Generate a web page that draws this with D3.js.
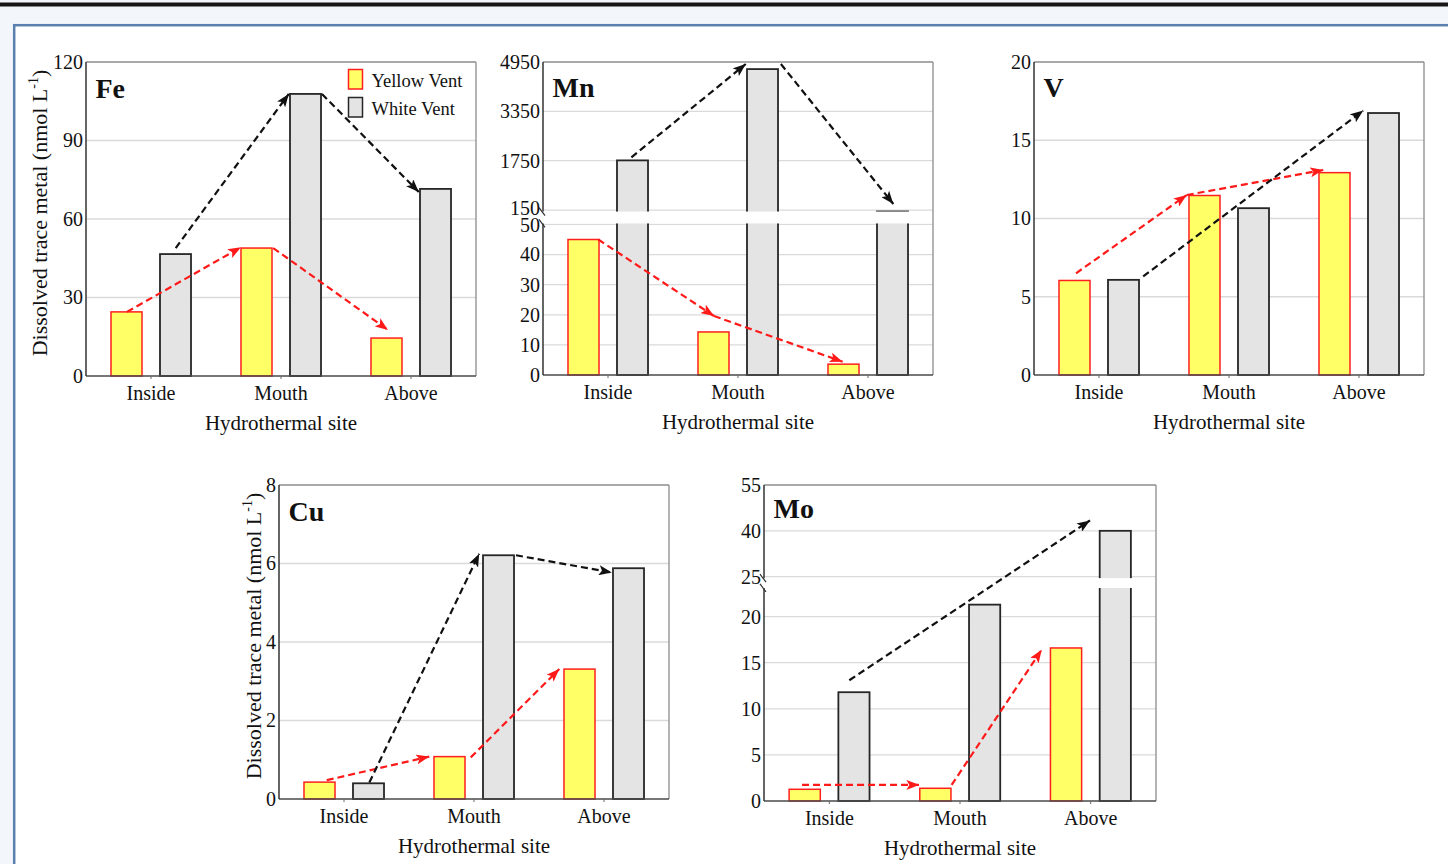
<!DOCTYPE html>
<html>
<head>
<meta charset="utf-8">
<script src="https://cdn.jsdelivr.net/npm/d3@7"></script>
<style>
  html, body { margin: 0; padding: 0; background: #f3f7fb; }
  svg { display: block; }
  text { font-family: "Liberation Serif", "Times New Roman", serif; fill: #111; }
</style>
</head>
<body>
<svg id="chart" width="1448" height="864"></svg>
<script>
// ---------------- DATA ----------------
const categories = ["Inside", "Mouth", "Above"];
const seriesNames = ["Yellow Vent", "White Vent"];

const feYellow = [24.5, 48.9, 14.5];
const feWhite  = [46.6, 107.8, 71.5];
const mnYellow = [45.0, 14.3, 3.6];
const mnWhite  = [1760, 4720, 140];
const vYellow  = [6.04, 11.47, 12.93];
const vWhite   = [6.08, 10.66, 16.74];
const cuYellow = [0.43, 1.08, 3.31];
const cuWhite  = [0.40, 6.21, 5.88];
const moYellow = [1.27, 1.38, 16.6];
const moWhite  = [11.8, 21.3, 40.0];

const feTicks = [0, 30, 60, 90, 120];
const mnTicksLower = [0, 10, 20, 30, 40, 50];
const mnTicksUpper = [150, 1750, 3350, 4950];
const vTicks  = [0, 5, 10, 15, 20];
const cuTicks = [0, 2, 4, 6, 8];
const moTicksLower = [0, 5, 10, 15, 20];
const moTicksUpper = [25, 40, 55];

// trend arrows: [category index, offset within band (fraction of band from center), value]
const feArrowsWhite  = [[[0, 0.19, 48.9], [1, 0.06, 107.8]], [[1, 0.315, 107.8], [2, 0.06, 70.3]]];
const feArrowsYellow = [[[0, -0.185, 24.5], [1, -0.308, 49.2]], [[1, -0.06, 48.9], [2, -0.177, 17.6]]];
const mnArrowsWhite  = [[[0, 0.18, 1859], [1, 0.06, 4885]], [[1, 0.33, 4885], [2, 0.195, 345]]];
const mnArrowsYellow = [[[0, -0.075, 45.0], [1, -0.185, 19.6]], [[1, -0.185, 19.6], [2, -0.195, 4.4]]];
const vArrowsWhite   = [[[0, 0.34, 6.3], [2, 0.033, 16.9]]];
const vArrowsYellow  = [[[0, -0.177, 6.5], [1, -0.325, 11.5]], [[1, -0.325, 11.5], [2, -0.275, 13.1]]];
const cuArrowsWhite  = [[[0, 0.195, 0.42], [1, 0.04, 6.25]], [[1, 0.323, 6.21], [2, 0.06, 5.77]]];
const cuArrowsYellow = [[[0, -0.133, 0.48], [1, -0.344, 1.08]], [[1, -0.025, 1.06], [2, -0.344, 3.31]]];
const moArrowsWhite  = [[[0, 0.153, 13.1], [2, -0.005, 43.4]]];
const moArrowsYellow = [[[0, -0.209, 1.74], [1, -0.311, 1.74]], [[1, -0.064, 1.74], [2, -0.375, 16.4]]];

// ---------------- LAYOUT / STYLE ----------------
const panels = [
  { name: "Fe", yellow: feYellow, white: feWhite, box: [86, 62, 390, 314],
    simple: { domain: [0, 120], ticks: feTicks },
    arrowsW: feArrowsWhite, arrowsY: feArrowsYellow, ylabelX: 47, legend: true, nameDy: 36 },
  { name: "Mn", yellow: mnYellow, white: mnWhite, box: [543, 62, 390, 313],
    broken: { lower: [0, 50], upper: [150, 4950], lowerFrac: 0.481, upperFrac: 0.527,
              lowerTicks: mnTicksLower, upperTicks: mnTicksUpper, upperShift: -2, lowerShift: 1 },
    arrowsW: mnArrowsWhite, arrowsY: mnArrowsYellow, nameDy: 35 },
  { name: "V", yellow: vYellow, white: vWhite, box: [1034, 62, 390, 313],
    simple: { domain: [0, 20], ticks: vTicks },
    arrowsW: vArrowsWhite, arrowsY: vArrowsYellow, nameDy: 35 },
  { name: "Cu", yellow: cuYellow, white: cuWhite, box: [279, 485, 390, 314],
    simple: { domain: [0, 8], ticks: cuTicks },
    arrowsW: cuArrowsWhite, arrowsY: cuArrowsYellow, ylabelX: 260.5, nameDy: 36 },
  { name: "Mo", yellow: moYellow, white: moWhite, box: [764, 485, 392, 316],
    broken: { lower: [0, 23], upper: [25, 55], lowerFrac: 0.671, upperFrac: 0.71,
              lowerTicks: moTicksLower, upperTicks: moTicksUpper, upperShift: 0, lowerShift: 0 },
    arrowsW: moArrowsWhite, arrowsY: moArrowsYellow, nameDy: 32.5 }
];

const YELLOW_FILL = "#ffff66", YELLOW_STROKE = "#ff1f1f";
const WHITE_FILL = "#e4e4e4", WHITE_STROKE = "#262626";
const RED_ARROW = "#ff1a1a", BLACK_ARROW = "#111111";

const svg = d3.select("#chart");

// page chrome
svg.append("rect").attr("x", 0).attr("y", 0).attr("width", 1448).attr("height", 864).attr("fill", "#f3f7fb");
svg.append("rect").attr("x", 0).attr("y", 2.5).attr("width", 1448).attr("height", 4).attr("fill", "#161616");
svg.append("rect").attr("x", 14.2).attr("y", 25.2).attr("width", 1500).attr("height", 900)
  .attr("fill", "#ffffff").attr("stroke", "#5b7fae").attr("stroke-width", 2.5);

// markers
const defs = svg.append("defs");
[["arrRed", RED_ARROW], ["arrBlack", BLACK_ARROW]].forEach(([id, c]) => {
  defs.append("marker").attr("id", id).attr("markerUnits", "userSpaceOnUse")
    .attr("viewBox", "0 0 13 10").attr("refX", 13).attr("refY", 5)
    .attr("markerWidth", 13).attr("markerHeight", 10).attr("orient", "auto")
    .append("path").attr("d", "M0,0 L13,5 L0,10 L3,5 Z").attr("fill", c);
});

panels.forEach(p => {
  const [L, T, W, H] = p.box;
  const B = T + H, R = L + W;
  const g = svg.append("g");

  const x = d3.scaleBand().domain(categories).range([L, R]);
  const xs = d3.scaleBand().domain(seriesNames).range([0, x.bandwidth()])
    .paddingInner(0.367).paddingOuter(0.51);

  // y mapping
  let yMap, tickSets, gap = null;
  if (p.simple) {
    const y = d3.scaleLinear().domain(p.simple.domain).range([B, T]);
    yMap = v => y(v);
    tickSets = [{ scale: y, ticks: p.simple.ticks, shift: 0 }];
  } else {
    const b = p.broken;
    const yl = d3.scaleLinear().domain(b.lower).range([B, B - H * b.lowerFrac]);
    const yu = d3.scaleLinear().domain(b.upper).range([B - H * b.upperFrac, T]);
    const ym = d3.scaleLinear().domain([b.lower[1], b.upper[0]]).range([yl(b.lower[1]), yu(b.upper[0])]);
    yMap = v => v <= b.lower[1] ? yl(v) : (v >= b.upper[0] ? yu(v) : ym(v));
    tickSets = [{ scale: yl, ticks: b.lowerTicks, shift: b.lowerShift, edge: b.lower[1] },
                { scale: yu, ticks: b.upperTicks, shift: b.upperShift, edge: b.upper[0] }];
    gap = [yu(b.upper[0]) + 1.5, yl(b.lower[1]) - 1];
  }

  // gridlines
  tickSets.forEach(ts => {
    g.append("g").selectAll("line").data(ts.ticks.filter(t => Math.abs(ts.scale(t) - T) > 1 && Math.abs(ts.scale(t) - B) > 1))
      .join("line")
      .attr("x1", L).attr("x2", R)
      .attr("y1", d => ts.scale(d)).attr("y2", d => ts.scale(d))
      .attr("stroke", "#dadada").attr("stroke-width", 1.3);
  });

  // bars
  const rows = categories.map((c, i) => ({ c, y: p.yellow[i], w: p.white[i] }));
  g.append("g").selectAll("rect").data(rows).join("rect")
    .attr("x", d => x(d.c) + xs("Yellow Vent")).attr("width", xs.bandwidth())
    .attr("y", d => yMap(d.y)).attr("height", d => B - yMap(d.y))
    .attr("fill", YELLOW_FILL).attr("stroke", YELLOW_STROKE).attr("stroke-width", 1.5);
  g.append("g").selectAll("rect").data(rows).join("rect")
    .attr("x", d => x(d.c) + xs("White Vent")).attr("width", xs.bandwidth())
    .attr("y", d => yMap(d.w)).attr("height", d => B - yMap(d.w))
    .attr("fill", WHITE_FILL).attr("stroke", WHITE_STROKE).attr("stroke-width", 1.8);

  // break gap
  if (gap) {
    g.append("rect").attr("x", L + 1).attr("width", W - 2)
      .attr("y", gap[0]).attr("height", gap[1] - gap[0]).attr("fill", "#ffffff");
  }

  // frame: top/right light
  g.append("line").attr("x1", L).attr("x2", R).attr("y1", T).attr("y2", T).attr("stroke", "#8c8c8c").attr("stroke-width", 1.3);
  g.append("line").attr("x1", R).attr("x2", R).attr("y1", T).attr("y2", B).attr("stroke", "#8c8c8c").attr("stroke-width", 1.3);

  // x axis
  const xa = g.append("g").attr("transform", `translate(0,${B})`)
    .call(d3.axisBottom(x).tickSize(3).tickPadding(7));
  xa.select(".domain").attr("stroke", "#4a4a4a").attr("stroke-width", 1.5).attr("d", `M${L},0H${R}`);
  xa.selectAll(".tick line").attr("stroke", "#666");
  xa.selectAll("text").attr("font-size", 20).attr("font-family", "Liberation Serif, serif").attr("fill", "#111");

  // y axis line (possibly broken)
  if (gap) {
    g.append("line").attr("x1", L).attr("x2", L).attr("y1", T).attr("y2", gap[0]).attr("stroke", "#333").attr("stroke-width", 1.5);
    g.append("line").attr("x1", L).attr("x2", L).attr("y1", gap[1]).attr("y2", B).attr("stroke", "#333").attr("stroke-width", 1.5);
    gap.forEach(gy => {
      g.append("line").attr("x1", L - 4).attr("y1", gy - 4).attr("x2", L + 2).attr("y2", gy + 4)
        .attr("stroke", "#333").attr("stroke-width", 1.2);
    });
  } else {
    g.append("line").attr("x1", L).attr("x2", L).attr("y1", T).attr("y2", B).attr("stroke", "#333").attr("stroke-width", 1.5);
  }

  // y tick labels
  tickSets.forEach(ts => {
    const ya = g.append("g").attr("transform", `translate(${L},0)`)
      .call(d3.axisLeft(ts.scale).tickValues(ts.ticks).tickSize(0).tickPadding(3).tickFormat(d3.format("d")));
    ya.select(".domain").remove();
    ya.selectAll("text").attr("font-size", 20).attr("font-family", "Liberation Serif, serif").attr("fill", "#111");
    if (ts.shift) {
      ya.selectAll(".tick").filter(d => d === ts.edge).select("text").attr("y", ts.shift);
    }
  });

  // arrows
  const px = a => x(categories[a[0]]) + x.bandwidth() / 2 + a[1] * x.bandwidth();
  const drawArrows = (arr, color, marker) => {
    g.append("g").selectAll("line").data(arr).join("line")
      .attr("x1", d => px(d[0])).attr("y1", d => yMap(d[0][2]))
      .attr("x2", d => px(d[1])).attr("y2", d => yMap(d[1][2]))
      .attr("stroke", color).attr("stroke-width", 2.2).attr("stroke-dasharray", "7,4")
      .attr("marker-end", `url(#${marker})`);
  };
  drawArrows(p.arrowsY, RED_ARROW, "arrRed");
  drawArrows(p.arrowsW, BLACK_ARROW, "arrBlack");

  // panel name
  g.append("text").attr("x", L + 9.5).attr("y", T + p.nameDy)
    .attr("font-size", 28).attr("font-weight", "bold").text(p.name);

  // x title
  g.append("text").attr("x", (L + R) / 2).attr("y", B + 54).attr("text-anchor", "middle")
    .attr("font-size", 21).text("Hydrothermal site");

  // y title
  if (p.ylabelX) {
    const t = g.append("text").attr("text-anchor", "middle")
      .attr("transform", `translate(${p.ylabelX},${(T + B) / 2 - 6}) rotate(-90)`)
      .attr("font-size", 22);
    t.append("tspan").text("Dissolved trace metal (nmol L");
    t.append("tspan").attr("font-size", 14).attr("dy", -9).text("-1");
    t.append("tspan").attr("dy", 9).text(")");
  }

  // legend
  if (p.legend) {
    const lg = g.append("g");
    const items = [[seriesNames[0], YELLOW_FILL, YELLOW_STROKE], [seriesNames[1], WHITE_FILL, WHITE_STROKE]];
    items.forEach((it, i) => {
      lg.append("rect").attr("x", 348.5).attr("y", 69.5 + i * 28).attr("width", 14).attr("height", 19.5)
        .attr("fill", it[1]).attr("stroke", it[2]).attr("stroke-width", 1.5);
      lg.append("text").attr("x", 371.5).attr("y", 86.5 + i * 28).attr("font-size", 18.5).text(it[0]);
    });
  }
});
</script>
</body>
</html>
